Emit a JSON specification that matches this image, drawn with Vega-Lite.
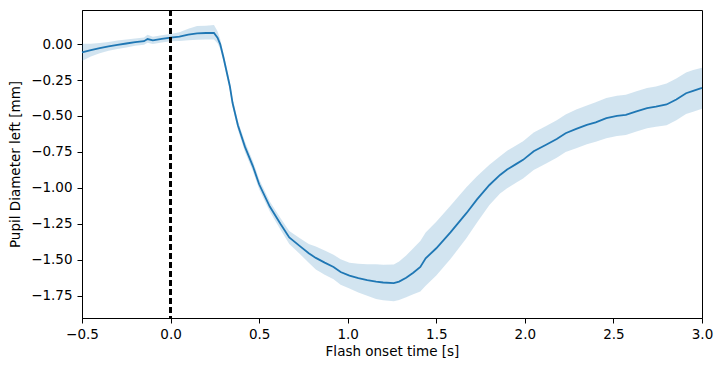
{
  "$schema": "https://vega.github.io/schema/vega-lite/v6.json",
  "autosize": "none",
  "width": 620,
  "height": 308,
  "padding": {"left": 82, "top": 10, "right": 20, "bottom": 53},
  "background": "white",
  "config": {
    "view": {"stroke": "black", "strokeWidth": 1},
    "axis": {
      "grid": false,
      "domainColor": "black",
      "domainWidth": 1,
      "tickColor": "black",
      "tickSize": 5,
      "tickWidth": 1,
      "labelColor": "black",
      "titleColor": "black",
      "labelFont": "DejaVu Sans",
      "titleFont": "DejaVu Sans",
      "labelFontSize": 13.5,
      "titleFontSize": 13.5,
      "titleFontWeight": "normal",
      "labelPadding": 4,
      "labelFlush": false,
      "labelOverlap": false,
      "labelBound": false
    }
  },
  "data": {
    "values": [
      {"t": -0.5, "mean": -0.058, "lo": -0.118, "hi": 0.002},
      {"t": -0.45, "mean": -0.042, "lo": -0.087, "hi": 0.003},
      {"t": -0.4, "mean": -0.028, "lo": -0.063, "hi": 0.007},
      {"t": -0.35, "mean": -0.016, "lo": -0.046, "hi": 0.014},
      {"t": -0.3, "mean": -0.005, "lo": -0.035, "hi": 0.025},
      {"t": -0.25, "mean": 0.004, "lo": -0.024, "hi": 0.032},
      {"t": -0.2, "mean": 0.014, "lo": -0.011, "hi": 0.039},
      {"t": -0.15, "mean": 0.02, "lo": -0.005, "hi": 0.045},
      {"t": -0.13, "mean": 0.035, "lo": 0.01, "hi": 0.065},
      {"t": -0.1, "mean": 0.026, "lo": 0.001, "hi": 0.051},
      {"t": -0.05, "mean": 0.036, "lo": 0.011, "hi": 0.061},
      {"t": 0.0, "mean": 0.045, "lo": 0.02, "hi": 0.07},
      {"t": 0.05, "mean": 0.052, "lo": 0.022, "hi": 0.082},
      {"t": 0.1, "mean": 0.066, "lo": 0.026, "hi": 0.106},
      {"t": 0.15, "mean": 0.075, "lo": 0.03, "hi": 0.125},
      {"t": 0.2, "mean": 0.077, "lo": 0.032, "hi": 0.127},
      {"t": 0.245, "mean": 0.077, "lo": 0.032, "hi": 0.132},
      {"t": 0.265, "mean": 0.045, "lo": 0.005, "hi": 0.09},
      {"t": 0.28, "mean": 0.0, "lo": -0.035, "hi": 0.035},
      {"t": 0.3, "mean": -0.1, "lo": -0.13, "hi": -0.07},
      {"t": 0.335, "mean": -0.295, "lo": -0.325, "hi": -0.265},
      {"t": 0.35, "mean": -0.41, "lo": -0.44, "hi": -0.38},
      {"t": 0.38, "mean": -0.565, "lo": -0.595, "hi": -0.535},
      {"t": 0.42, "mean": -0.715, "lo": -0.75, "hi": -0.68},
      {"t": 0.465, "mean": -0.85, "lo": -0.885, "hi": -0.815},
      {"t": 0.5, "mean": -0.975, "lo": -1.01, "hi": -0.94},
      {"t": 0.56, "mean": -1.13, "lo": -1.165, "hi": -1.095},
      {"t": 0.62, "mean": -1.25, "lo": -1.29, "hi": -1.21},
      {"t": 0.67, "mean": -1.345, "lo": -1.39, "hi": -1.3},
      {"t": 0.73, "mean": -1.405, "lo": -1.46, "hi": -1.35},
      {"t": 0.78, "mean": -1.455, "lo": -1.52, "hi": -1.39},
      {"t": 0.82, "mean": -1.487, "lo": -1.567, "hi": -1.407},
      {"t": 0.87, "mean": -1.52, "lo": -1.605, "hi": -1.435},
      {"t": 0.92, "mean": -1.55, "lo": -1.635, "hi": -1.465},
      {"t": 0.96, "mean": -1.585, "lo": -1.673, "hi": -1.497},
      {"t": 1.01, "mean": -1.61, "lo": -1.7, "hi": -1.52},
      {"t": 1.06, "mean": -1.627, "lo": -1.727, "hi": -1.527},
      {"t": 1.11, "mean": -1.641, "lo": -1.751, "hi": -1.531},
      {"t": 1.16, "mean": -1.652, "lo": -1.772, "hi": -1.532},
      {"t": 1.2, "mean": -1.658, "lo": -1.781, "hi": -1.535},
      {"t": 1.26, "mean": -1.663, "lo": -1.788, "hi": -1.533},
      {"t": 1.29, "mean": -1.652, "lo": -1.78, "hi": -1.512},
      {"t": 1.33, "mean": -1.625, "lo": -1.76, "hi": -1.47},
      {"t": 1.37, "mean": -1.59, "lo": -1.74, "hi": -1.42},
      {"t": 1.41, "mean": -1.55, "lo": -1.72, "hi": -1.37},
      {"t": 1.44, "mean": -1.49, "lo": -1.68, "hi": -1.31},
      {"t": 1.5, "mean": -1.42, "lo": -1.61, "hi": -1.235},
      {"t": 1.58, "mean": -1.31, "lo": -1.495, "hi": -1.125},
      {"t": 1.67, "mean": -1.176, "lo": -1.351, "hi": -0.996},
      {"t": 1.73, "mean": -1.08, "lo": -1.24, "hi": -0.92},
      {"t": 1.8, "mean": -0.98, "lo": -1.12, "hi": -0.84},
      {"t": 1.86, "mean": -0.91, "lo": -1.04, "hi": -0.78},
      {"t": 1.9, "mean": -0.872, "lo": -1.002, "hi": -0.742},
      {"t": 1.95, "mean": -0.835, "lo": -0.965, "hi": -0.705},
      {"t": 1.99, "mean": -0.805, "lo": -0.935, "hi": -0.675},
      {"t": 2.05, "mean": -0.745, "lo": -0.875, "hi": -0.615},
      {"t": 2.12, "mean": -0.7, "lo": -0.83, "hi": -0.57},
      {"t": 2.18, "mean": -0.66, "lo": -0.79, "hi": -0.53},
      {"t": 2.23, "mean": -0.62, "lo": -0.75, "hi": -0.49},
      {"t": 2.29, "mean": -0.59, "lo": -0.725, "hi": -0.455},
      {"t": 2.35, "mean": -0.562, "lo": -0.697, "hi": -0.427},
      {"t": 2.4, "mean": -0.545, "lo": -0.68, "hi": -0.405},
      {"t": 2.46, "mean": -0.515, "lo": -0.655, "hi": -0.375},
      {"t": 2.52, "mean": -0.5, "lo": -0.64, "hi": -0.36},
      {"t": 2.57, "mean": -0.492, "lo": -0.632, "hi": -0.352},
      {"t": 2.63, "mean": -0.468, "lo": -0.608, "hi": -0.328},
      {"t": 2.69, "mean": -0.445, "lo": -0.585, "hi": -0.305},
      {"t": 2.74, "mean": -0.435, "lo": -0.575, "hi": -0.295},
      {"t": 2.8, "mean": -0.42, "lo": -0.565, "hi": -0.275},
      {"t": 2.855, "mean": -0.385, "lo": -0.53, "hi": -0.24},
      {"t": 2.91, "mean": -0.342, "lo": -0.487, "hi": -0.197},
      {"t": 2.95, "mean": -0.325, "lo": -0.47, "hi": -0.18},
      {"t": 3.0, "mean": -0.305, "lo": -0.45, "hi": -0.165}
    ]
  },
  "encoding": {
    "x": {
      "field": "t",
      "type": "quantitative",
      "scale": {"domain": [-0.5, 3.0], "nice": false, "zero": false},
      "axis": {"values": [-0.5, 0, 0.5, 1, 1.5, 2, 2.5, 3], "format": ".1f", "title": "Flash onset time [s]", "titlePadding": 4}
    }
  },
  "layer": [
    {
      "mark": {"type": "area", "color": "#1f77b4", "opacity": 0.2},
      "encoding": {
        "y": {
          "field": "lo",
          "type": "quantitative",
          "scale": {"domain": [-1.905, 0.237], "nice": false, "zero": false},
          "axis": {"values": [0, -0.25, -0.5, -0.75, -1, -1.25, -1.5, -1.75], "format": ".2f", "title": "Pupil Diameter left [mm]", "titlePadding": 8, "labelPadding": 5}
        },
        "y2": {"field": "hi"}
      }
    },
    {
      "mark": {"type": "line", "color": "#1f77b4", "strokeWidth": 1.8},
      "encoding": {
        "y": {"field": "mean", "type": "quantitative"}
      }
    },
    {
      "mark": {"type": "rule", "color": "black", "strokeWidth": 1.8, "strokeDash": [6, 3]},
      "encoding": {
        "x": {"datum": 0}
      }
    }
  ]
}
